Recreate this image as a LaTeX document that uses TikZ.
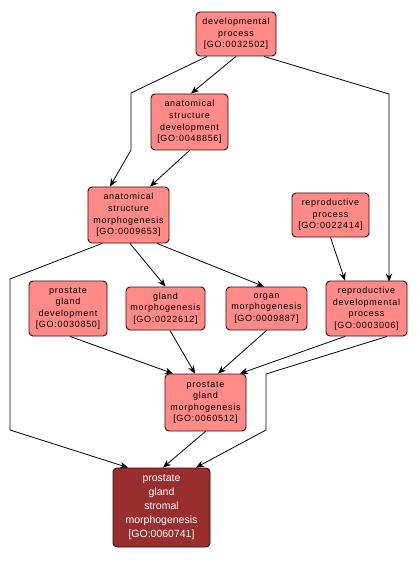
\documentclass[tikz,border=0pt]{standalone}
\usepackage{fontspec}
\setmainfont{Liberation Sans}
\newfontfamily\spacedfont[LetterSpace=8]{Liberation Sans}
\usetikzlibrary{arrows.meta}
\definecolor{lightfill}{HTML}{FF8A87}
\definecolor{darkfill}{HTML}{992E2E}
\definecolor{bordercol}{HTML}{3A0A0A}
\begin{document}
\begin{tikzpicture}[x=1pt,y=-1pt,
  term/.style={draw=bordercol, line width=0.9pt, fill=lightfill, rounded corners=4pt,
     inner sep=0pt, align=center, font=\spacedfont\fontsize{9}{11.6}\selectfont},
  dterm/.style={draw=bordercol, line width=0.9pt, fill=darkfill, rounded corners=4pt,
     inner sep=0pt, align=center, text=white, font=\fontsize{10.5}{14}\selectfont},
  e/.style={draw=black, line width=0.8pt, -{Stealth[length=8pt,width=6.5pt]}}]
\useasboundingbox (0,0) rectangle (418,561);
\fill[white] (0,0) rectangle (418,561);
\node[term, minimum width=80pt, minimum height=44pt] (dev) at (236,34) {developmental\\process\\{[GO:0032502]}};
\node[term, minimum width=77pt, minimum height=56pt] (asd) at (189.5,122) {anatomical\\structure\\development\\{[GO:0048856]}};
\node[term, minimum width=81pt, minimum height=56pt] (asm) at (128.5,215) {anatomical\\structure\\morphogenesis\\{[GO:0009653]}};
\node[term, minimum width=77pt, minimum height=44pt] (rp) at (330.5,215) {reproductive\\process\\{[GO:0022414]}};
\node[term, minimum width=78pt, minimum height=55pt] (pgd) at (68,308.5) {prostate\\gland\\development\\{[GO:0030850]}};
\node[term, minimum width=79pt, minimum height=43pt] (gm) at (165.5,308.5) {gland\\morphogenesis\\{[GO:0022612]}};
\node[term, minimum width=81pt, minimum height=43pt] (om) at (266.5,308.5) {organ\\morphogenesis\\{[GO:0009887]}};
\node[term, minimum width=81pt, minimum height=55pt] (rdp) at (366.5,308.5) {reproductive\\developmental\\process\\{[GO:0003006]}};
\node[term, minimum width=81pt, minimum height=57pt] (pgm) at (205.5,402.5) {prostate\\gland\\morphogenesis\\{[GO:0060512]}};
\node[dterm, minimum width=97pt, minimum height=79pt] (pgsm) at (161.5,507.5) {prostate\\gland\\stromal\\morphogenesis\\{[GO:0060741]}};
\coordinate (b1) at (131,93);
\coordinate (b2) at (131,150);
\coordinate (b3) at (389,94);
\coordinate (b4) at (389,280);
\coordinate (b5) at (10,279);
\coordinate (b6) at (10,430);
\coordinate (b7) at (266,374);
\coordinate (b8) at (266,430);
\draw[e] ([xshift=-29pt]dev.south) -- (b1) -- (b2) -- ([xshift=-18.5pt]asm.north);
\draw[e] (dev.south) -- ([xshift=1.5pt]asd.north);
\draw[e] ([xshift=28pt]dev.south) -- (b3) -- (b4) -- ([xshift=22.5pt,yshift=-1pt]rdp.north);
\draw[e] (asd.south) -- ([xshift=21.5pt]asm.north);
\draw[e] ([xshift=-26.5pt]asm.south) -- (b5) -- (b6) -- ([xshift=-33.5pt]pgsm.north);
\draw[e] ([xshift=1.5pt]asm.south) -- (gm.north);
\draw[e] ([xshift=28.5pt]asm.south) -- ([xshift=-2.5pt]om.north);
\draw[e] (rp.south) -- ([xshift=-21.5pt]rdp.north);
\draw[e] ([xshift=2pt]pgd.south) -- ([xshift=-32.5pt]pgm.north);
\draw[e] ([xshift=4.5pt]gm.south) -- ([xshift=-10.5pt]pgm.north);
\draw[e] (om.south) -- ([xshift=12.5pt]pgm.north);
\draw[e] ([xshift=-21.5pt]rdp.south) -- ([xshift=34.5pt]pgm.north);
\draw[e] ([xshift=20.5pt]rdp.south) -- (b7) -- (b8) -- ([xshift=34.5pt]pgsm.north);
\draw[e] (pgm.south) -- ([xshift=1.5pt]pgsm.north);
\end{tikzpicture}
\end{document}
